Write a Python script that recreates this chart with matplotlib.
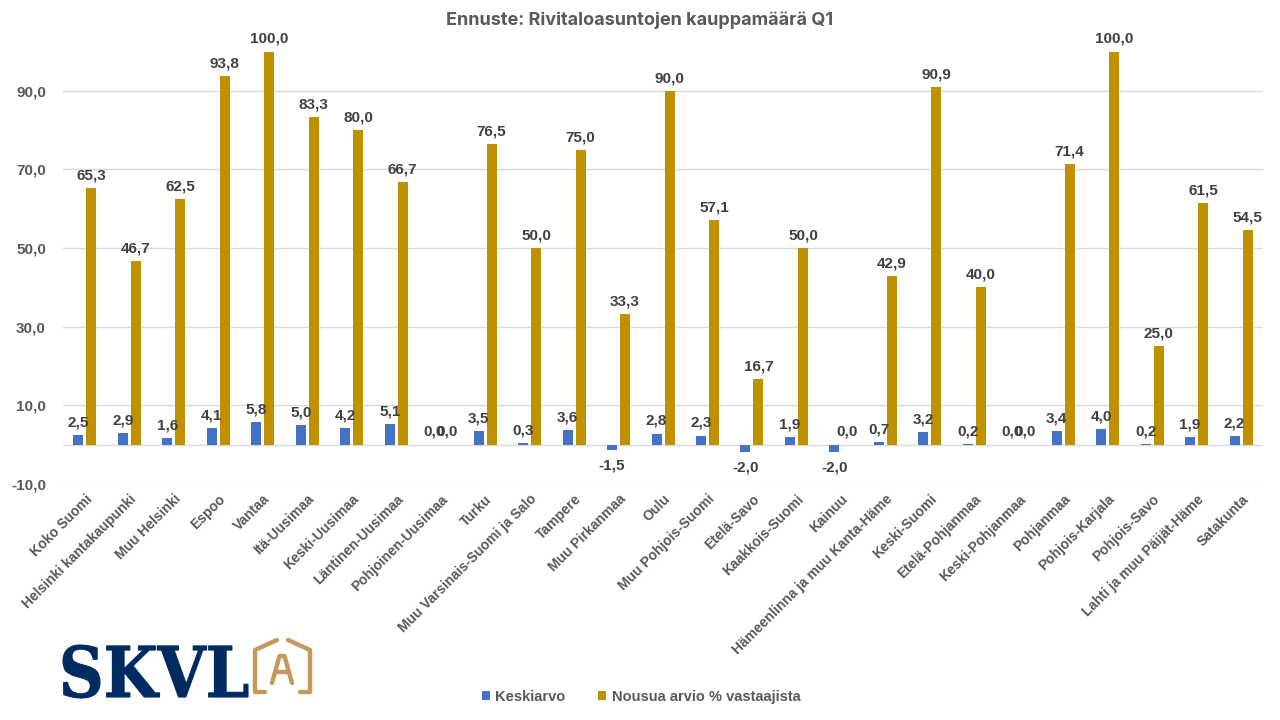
import matplotlib
matplotlib.use("Agg")
import matplotlib.pyplot as plt
import numpy as np
from matplotlib.textpath import TextPath
from matplotlib.font_manager import FontProperties
from matplotlib.patches import PathPatch
from matplotlib.path import Path

# data
categories = [
    "Koko Suomi", "Helsinki kantakaupunki", "Muu Helsinki", "Espoo", "Vantaa",
    "Itä-Uusimaa", "Keski-Uusimaa", "Läntinen-Uusimaa", "Pohjoinen-Uusimaa",
    "Turku", "Muu Varsinais-Suomi ja Salo", "Tampere", "Muu Pirkanmaa", "Oulu",
    "Muu Pohjois-Suomi", "Etelä-Savo", "Kaakkois-Suomi", "Kainuu",
    "Hämeenlinna ja muu Kanta-Häme", "Keski-Suomi", "Etelä-Pohjanmaa",
    "Keski-Pohjanmaa", "Pohjanmaa", "Pohjois-Karjala", "Pohjois-Savo",
    "Lahti ja muu Päijät-Häme", "Satakunta",
]
keskiarvo = [2.5, 2.9, 1.6, 4.1, 5.8, 5.0, 4.2, 5.1, 0.0, 3.5, 0.3, 3.6, -1.5, 2.8,
             2.3, -2.0, 1.9, -2.0, 0.7, 3.2, 0.2, 0.0, 3.4, 4.0, 0.2, 1.9, 2.2]
nousua = [65.3, 46.7, 62.5, 93.8, 100.0, 83.3, 80.0, 66.7, 0.0, 76.5, 50.0, 75.0, 33.3, 90.0,
          57.1, 16.7, 50.0, 0.0, 42.9, 90.9, 40.0, 0.0, 71.4, 100.0, 25.0, 61.5, 54.5]
series_names = ["Keskiarvo", "Nousua arvio % vastaajista"]
y_ticks = [-10, 10, 30, 50, 70, 90]

BLUE = "#4472C4"
GOLD = "#BF9000"
GRAY = "#595959"
LABEL = "#404040"
GRID = "#D9D9D9"

plt.rcParams["font.family"] = ["Liberation Sans", "DejaVu Sans"]


def fmt(v):
    return f"{v:.1f}".replace(".", ",")


def add_labels(ax, bars, values):
    for b, v in zip(bars, values):
        x = b.get_x() + b.get_width() / 2
        if v < 0:
            ax.annotate(fmt(v), (x, v), xytext=(0, -6), textcoords="offset points",
                        ha="center", va="top", fontsize=11, fontweight="bold", color=LABEL)
        else:
            ax.annotate(fmt(v), (x, v), xytext=(0, 4), textcoords="offset points",
                        ha="center", va="bottom", fontsize=11, fontweight="bold", color=LABEL)


fig = plt.figure(figsize=(12.8, 7.2), dpi=100)
ax = fig.add_axes([0.049, 0.328, 0.938, 0.655])

x = np.arange(len(categories))
w = 0.225
off = 0.146
b1 = ax.bar(x - off, keskiarvo, w, color=BLUE, label=series_names[0], zorder=3)
b2 = ax.bar(x + off, nousua, w, color=GOLD, label=series_names[1], zorder=3)
add_labels(ax, b1, keskiarvo)
add_labels(ax, b2, nousua)

ax.set_xlim(-0.5, len(categories) - 0.5)
ax.set_ylim(-10, 110)
ax.set_yticks(y_ticks)
ax.set_yticklabels([fmt(t) for t in y_ticks], fontsize=11, fontweight="bold", color=GRAY)
ax.set_xticks(x)
ax.set_xticklabels(categories, rotation=45, ha="right", rotation_mode="anchor",
                   fontsize=10, fontweight="bold", color=GRAY)
ax.tick_params(axis="both", length=0)
ax.tick_params(axis="y", pad=12)
ax.tick_params(axis="x", pad=6)
ax.grid(axis="y", color=GRID, linewidth=1, zorder=0)
ax.axhline(0, color=GRID, linewidth=1, zorder=2)
for s in ax.spines.values():
    s.set_visible(False)

fig.text(0.5, 0.972, "Ennuste: Rivitaloasuntojen kauppamäärä Q1", ha="center", va="center",
         fontsize=13, fontweight="bold", color=GRAY, family=["Inter", "DejaVu Sans"])

leg = fig.legend(loc="center", bbox_to_anchor=(641 / 1280, 1 - 697 / 720), ncol=2, frameon=False,
                 handlelength=0.55, handleheight=0.55, handletextpad=0.4, columnspacing=2.2,
                 prop={"size": 10.5, "weight": "bold"})
for t in leg.get_texts():
    t.set_color(GRAY)

# logo overlay in pixel coordinates
ov = fig.add_axes([0, 0, 1, 1])
ov.set_xlim(0, 1280)
ov.set_ylim(720, 0)
ov.axis("off")

tp = TextPath((0, 0), "SKVL", size=100, prop=FontProperties(family="DejaVu Serif", weight="bold"))
ext = tp.get_extents()
v = tp.vertices.copy()
v[:, 0] = 63 + (v[:, 0] - ext.x0) * (248 - 63) / ext.width
v[:, 1] = 698 - (v[:, 1] - ext.y0) * (698 - 645) / ext.height
ov.add_patch(PathPatch(Path(v, tp.codes), facecolor="#002B61", edgecolor="#002B61", linewidth=0.8))

LOGO_GOLD = "#C49A5C"
house = [
    ([265, 255, 255, 277], [692, 692, 650, 640]),
    ([300, 310, 310, 288], [692, 692, 650, 640]),
    ([272, 279.5, 284.5, 292], [683, 656, 656, 683]),
    ([275.5, 288.5], [672, 672]),
]
for hx, hy in house:
    ov.plot(hx, hy, color=LOGO_GOLD, linewidth=3.2, solid_capstyle="round",
            solid_joinstyle="round")

fig.savefig("out.png", dpi=100)
